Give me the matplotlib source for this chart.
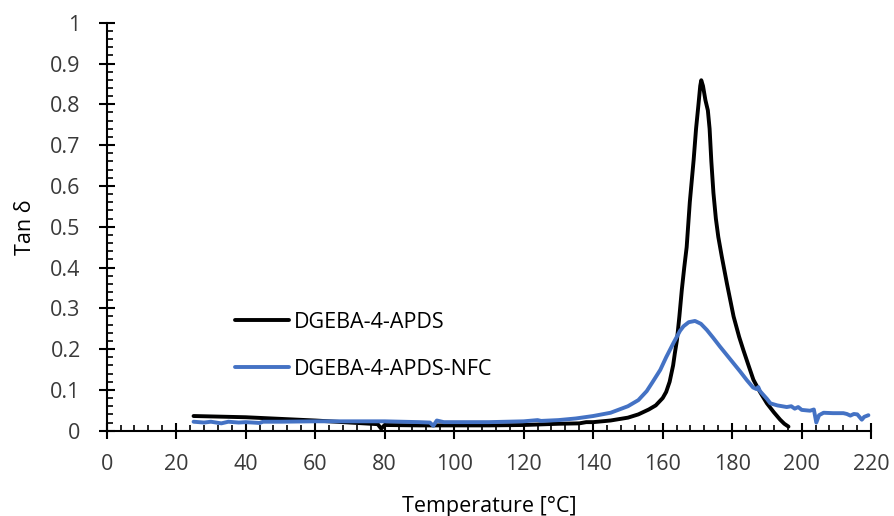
"""
Tan delta vs temperature for DGEBA-4-APDS with and without NFC.
"""

import matplotlib
matplotlib.use("Agg")
import matplotlib.pyplot as plt
from matplotlib.ticker import MultipleLocator

# DGEBA-4-APDS (neat resin)
temp_neat = [25, 30, 40, 50, 60, 70, 78, 79, 80, 90, 100, 110, 120, 130, 136,
             138, 140, 145, 150, 153, 156, 158, 160, 161, 162, 163, 163.5,
             164.1, 164.8, 165.5, 166.2, 166.9, 167.8, 168.9, 169.6, 170.3,
             170.8, 171.1, 171.6, 172.3, 173.0, 173.5, 174.0, 174.6, 175.3,
             176.0, 177.0, 178.5, 180.4, 182.0, 183.2, 184.5, 186.1, 188.0,
             190.0, 192.0, 193.8, 195.0, 196.2]
tan_neat = [0.036, 0.035, 0.033, 0.029, 0.025, 0.020, 0.016, 0.005, 0.014,
            0.013, 0.013, 0.013, 0.014, 0.017, 0.018, 0.021, 0.021, 0.025,
            0.032, 0.040, 0.052, 0.062, 0.080, 0.095, 0.120, 0.160, 0.190,
            0.222, 0.280, 0.345, 0.400, 0.450, 0.560, 0.663, 0.740, 0.800,
            0.845, 0.859, 0.845, 0.810, 0.785, 0.740, 0.660, 0.583, 0.520,
            0.475, 0.427, 0.360, 0.280, 0.230, 0.198, 0.165, 0.125, 0.095,
            0.067, 0.045, 0.027, 0.017, 0.010]

# DGEBA-4-APDS-NFC
temp_nfc = [25, 28, 30, 33, 35, 38, 40, 44, 45, 50, 60, 70, 80, 90, 93, 94, 95,
            97, 100, 110, 120, 124, 125, 130, 135, 140, 145, 150, 153, 155.4,
            157, 159.3, 161, 163.1, 165, 166, 167.5, 169.3, 171, 172.7, 174.5,
            176.5, 178.5, 180.4, 182.3, 184.2, 186, 187, 187.5, 188, 190, 191,
            193, 195.7, 197, 198, 199, 200, 202.4, 203.5, 204.2, 205, 206.3,
            209, 212, 213, 214, 215, 216, 217.3, 218, 219.2]
tan_nfc = [0.022, 0.020, 0.022, 0.018, 0.022, 0.020, 0.021, 0.019, 0.022,
           0.022, 0.023, 0.023, 0.023, 0.021, 0.020, 0.012, 0.025, 0.021,
           0.021, 0.021, 0.023, 0.026, 0.024, 0.026, 0.030, 0.036, 0.044,
           0.060, 0.075, 0.097, 0.118, 0.149, 0.180, 0.215, 0.245, 0.256,
           0.266, 0.269, 0.262, 0.247, 0.228, 0.206, 0.185, 0.165, 0.145,
           0.124, 0.106, 0.102, 0.107, 0.097, 0.078, 0.067, 0.062, 0.058,
           0.060, 0.054, 0.058, 0.051, 0.049, 0.052, 0.020, 0.038, 0.044,
           0.043, 0.043, 0.041, 0.037, 0.041, 0.040, 0.027, 0.034, 0.038]

series_labels = ["DGEBA-4-APDS", "DGEBA-4-APDS-NFC"]

plt.rcParams['font.family'] = ['Open Sans', 'DejaVu Sans']

fig = plt.figure(figsize=(8.95, 5.16), dpi=100)
ax = fig.add_axes([0.1192, 0.1653, 0.8542, 0.7907])

ax.plot(temp_neat, tan_neat, color='black', lw=2.8, label=series_labels[0],
        solid_joinstyle='round', solid_capstyle='round')
ax.plot(temp_nfc, tan_nfc, color='#4472C4', lw=2.8, label=series_labels[1],
        solid_joinstyle='round', solid_capstyle='round')

ax.set_xlim(0, 220)
ax.set_ylim(0, 1)
ax.xaxis.set_major_locator(MultipleLocator(20))
ax.xaxis.set_minor_locator(MultipleLocator(4))
ax.yaxis.set_major_locator(MultipleLocator(0.1))
ax.yaxis.set_minor_locator(MultipleLocator(0.02))
ax.yaxis.set_major_formatter(lambda v, p: f"{v:.1f}".rstrip('0').rstrip('.') if v else "0")

for side in ('top', 'right'):
    ax.spines[side].set_visible(False)
for side in ('left', 'bottom'):
    ax.spines[side].set_linewidth(1.5)

ax.tick_params(which='major', direction='inout', length=11.5, width=1.5,
               labelsize=15.5, labelcolor='#3a3a3a')
ax.tick_params(axis='x', which='major', pad=11)
ax.tick_params(axis='y', which='major', pad=13)
ax.tick_params(which='minor', direction='in', length=4.5, width=1.2)

ax.set_xlabel('Temperature [°C]', fontsize=15.5)
ax.xaxis.set_label_coords(0.5, -0.160)
ax.set_ylabel('Tan δ', fontsize=15.5)
ax.yaxis.set_label_coords(-0.093, 0.5)

ax.legend(loc='upper left', bbox_to_anchor=(235 / 895, 1 - 312 / 516),
          bbox_transform=fig.transFigure, frameon=False, fontsize=15.5,
          handlelength=2.5, handletextpad=0.25, labelspacing=1.2,
          borderpad=0, borderaxespad=0)

fig.savefig('out.png', dpi=100, facecolor='white')
